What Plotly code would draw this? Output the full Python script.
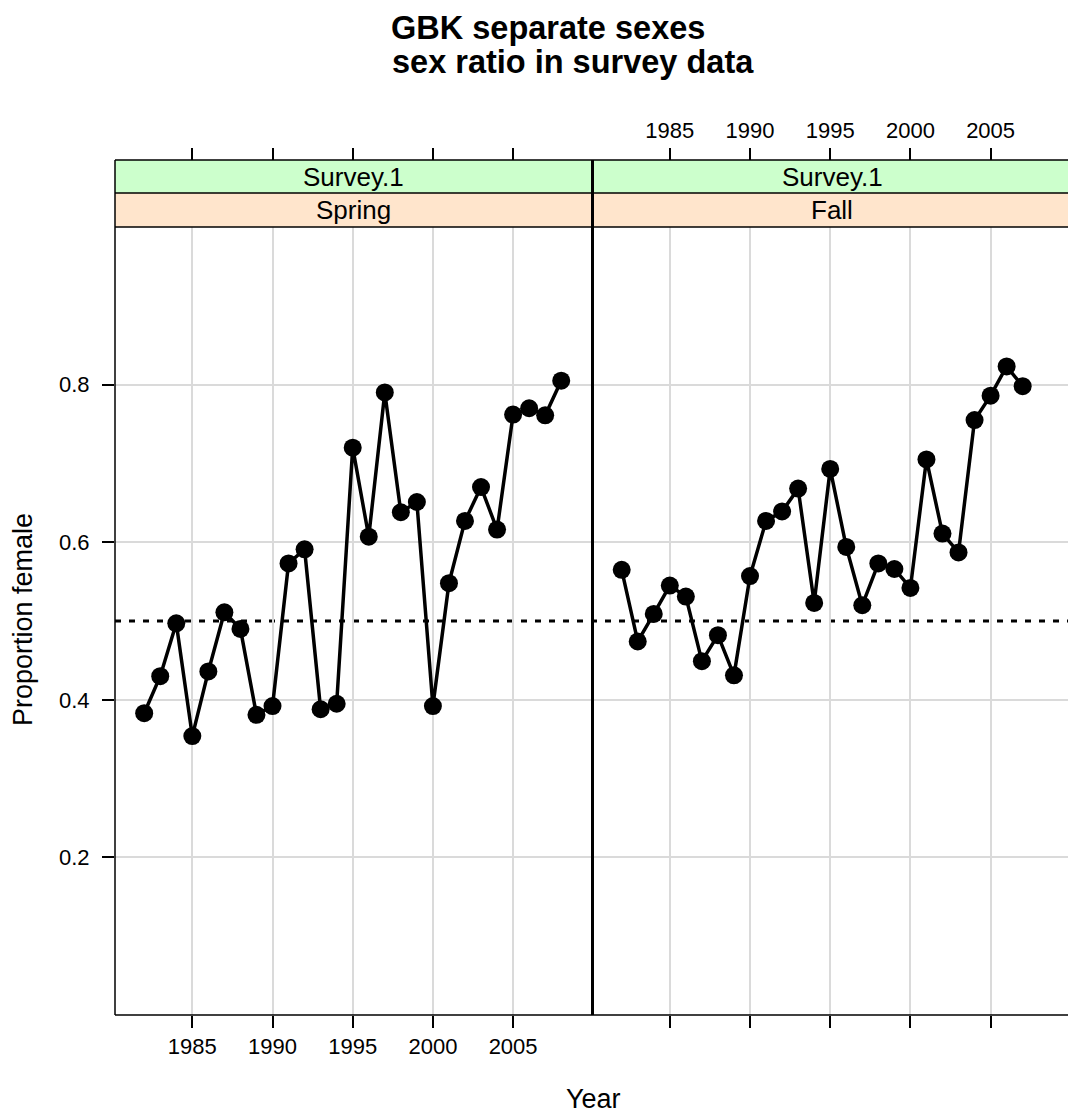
import plotly.graph_objects as go

# ---------------- data ----------------
years_spring = list(range(1982, 2009))
spring = [0.383, 0.430, 0.497, 0.354, 0.436, 0.511, 0.490, 0.381, 0.392, 0.573,
          0.591, 0.388, 0.395, 0.720, 0.607, 0.790, 0.638, 0.651, 0.392, 0.548,
          0.627, 0.670, 0.616, 0.762, 0.770, 0.761, 0.805]
years_fall = list(range(1982, 2008))
fall = [0.565, 0.474, 0.509, 0.545, 0.531, 0.449, 0.482, 0.431, 0.557, 0.627,
        0.639, 0.668, 0.523, 0.693, 0.594, 0.520, 0.573, 0.566, 0.542, 0.705,
        0.611, 0.587, 0.755, 0.786, 0.823, 0.798]
x_ticks = [1985, 1990, 1995, 2000, 2005]
y_ticks = [0.2, 0.4, 0.6, 0.8]
strip_outer = ["Survey.1", "Survey.1"]
strip_inner = ["Spring", "Fall"]
reference_level = 0.5
title_lines = ["GBK separate sexes", "sex ratio in survey data"]
x_title = "Year"
y_title = "Proportion female"

# ---------------- geometry / style ----------------
W, H = 1068, 1114
ML, MR, MT, MB = 115, 0, 160, 99
PW = W - ML - MR
PH = H - MT - MB


def px_x(p):
    return (p - ML) / PW


def px_y(p):
    return (H - MB - p) / PH


FONT = "Liberation Sans, Arial, Helvetica, sans-serif"
GRID = "#DADADA"
dL = px_x(592.5)
ytop = px_y(227)
s_mid = px_y(193)
px_per_year = 477.5 / 29.77
XR_L = [1980.18, 2009.95]
XR_R = [1980.18, 1980.18 + (W - 592.5) / px_per_year]

fig = go.Figure()
line_style = dict(color="black", width=3.5)
marker_style = dict(color="black", size=18)
fig.add_trace(go.Scatter(x=years_spring, y=spring, mode="lines+markers",
                         line=line_style, marker=marker_style,
                         xaxis="x", yaxis="y", showlegend=False))
fig.add_trace(go.Scatter(x=years_fall, y=fall, mode="lines+markers",
                         line=line_style, marker=marker_style,
                         xaxis="x2", yaxis="y2", showlegend=False))
# invisible companions so the top tick axes get drawn
fig.add_trace(go.Scatter(x=years_spring, y=spring, mode="markers",
                         marker=dict(opacity=0), hoverinfo="skip",
                         xaxis="x3", yaxis="y", showlegend=False))
fig.add_trace(go.Scatter(x=years_fall, y=fall, mode="markers",
                         marker=dict(opacity=0), hoverinfo="skip",
                         xaxis="x4", yaxis="y2", showlegend=False))

tickfont = dict(family=FONT, size=22, color="black")
common_x = dict(tickvals=x_ticks, ticks="outside", ticklen=12, tickwidth=1.5,
                tickcolor="black", zeroline=False, showline=False,
                tickfont=tickfont, fixedrange=True)

fig.update_layout(
    width=W, height=H,
    margin=dict(l=ML, r=MR, t=MT, b=MB, pad=0),
    paper_bgcolor="white", plot_bgcolor="white",
    showlegend=False,
    xaxis=dict(domain=[0, dL], range=XR_L, anchor="y", showgrid=True,
               gridcolor=GRID, gridwidth=1.5, ticklabelstandoff=0, **common_x),
    xaxis2=dict(domain=[dL, 1], range=XR_R, anchor="y2", showgrid=True,
                gridcolor=GRID, gridwidth=1.5, showticklabels=False, **common_x),
    xaxis3=dict(domain=[0, dL], range=XR_L, overlaying="x", side="top",
                anchor="free", position=1, showgrid=False,
                showticklabels=False, **common_x),
    xaxis4=dict(domain=[dL, 1], range=XR_R, overlaying="x2", side="top",
                anchor="free", position=1, showgrid=False,
                showticklabels=True, ticklabelstandoff=1, **common_x),
    yaxis=dict(domain=[0, ytop], range=[0, 1], anchor="x", tickvals=y_ticks,
               ticks="outside", ticklen=12, tickwidth=1.5, tickcolor="black",
               showgrid=True, gridcolor=GRID, gridwidth=1.5, zeroline=False,
               showline=False, tickfont=tickfont, ticklabelstandoff=8,
               fixedrange=True),
    yaxis2=dict(domain=[0, ytop], range=[0, 1], anchor="x2", tickvals=y_ticks,
                ticks="", showticklabels=False, showgrid=True, gridcolor=GRID,
                gridwidth=1.5, zeroline=False, showline=False, fixedrange=True),
)

shapes = []
panels = [(0, dL), (dL, 1)]
for (a, b) in panels:
    shapes.append(dict(type="rect", xref="paper", yref="paper", x0=a, x1=b,
                       y0=s_mid, y1=1, fillcolor="#CCFFCC", line=dict(width=0),
                       layer="below"))
    shapes.append(dict(type="rect", xref="paper", yref="paper", x0=a, x1=b,
                       y0=ytop, y1=s_mid, fillcolor="#FFE5CC", line=dict(width=0),
                       layer="below"))
# reference line
shapes.append(dict(type="line", xref="paper", yref="y", x0=0, x1=1,
                   y0=reference_level, y1=reference_level,
                   line=dict(color="black", width=3, dash="6px,8px"),
                   layer="between"))
# borders
border = dict(color="black", width=1.5)
for yy in [0, ytop, s_mid, 1]:
    shapes.append(dict(type="line", xref="paper", yref="paper", x0=0, x1=1,
                       y0=yy, y1=yy, line=border, layer="above"))
shapes.append(dict(type="line", xref="paper", yref="paper", x0=0, x1=0,
                   y0=0, y1=1, line=border, layer="above"))
shapes.append(dict(type="line", xref="paper", yref="paper", x0=dL, x1=dL,
                   y0=0, y1=1, line=dict(color="black", width=3), layer="above"))
fig.update_layout(shapes=shapes)

ann = []
for i, (a, b) in enumerate(panels):
    cx = (a + b) / 2 if i == 0 else (a + px_x(1071.5)) / 2
    ann.append(dict(xref="paper", yref="paper", x=cx,
                    y=(s_mid + 1) / 2, text=strip_outer[i], showarrow=False,
                    font=dict(family=FONT, size=26, color="black"),
                    xanchor="center", yanchor="middle"))
    ann.append(dict(xref="paper", yref="paper", x=cx,
                    y=(ytop + s_mid) / 2, text=strip_inner[i], showarrow=False,
                    font=dict(family=FONT, size=26, color="black"),
                    xanchor="center", yanchor="middle"))
ann.append(dict(xref="paper", yref="paper", x=px_x(548), y=px_y(28),
                text="<b>%s</b>" % title_lines[0], showarrow=False,
                font=dict(family=FONT, size=32.5, color="black"),
                xanchor="center", yanchor="middle"))
ann.append(dict(xref="paper", yref="paper", x=px_x(573), y=px_y(62),
                text="<b>%s</b>" % title_lines[1], showarrow=False,
                font=dict(family=FONT, size=32.5, color="black"),
                xanchor="center", yanchor="middle"))
ann.append(dict(xref="paper", yref="paper", x=px_x(593), y=px_y(1099),
                text=x_title, showarrow=False,
                font=dict(family=FONT, size=27, color="black"),
                xanchor="center", yanchor="middle"))
ann.append(dict(xref="paper", yref="paper", x=px_x(23), y=px_y(620),
                text=y_title, showarrow=False, textangle=-90,
                font=dict(family=FONT, size=27, color="black"),
                xanchor="center", yanchor="middle"))
fig.update_layout(annotations=ann)

fig.write_html("out.html",
               config={"displayModeBar": False},
               post_script="document.body.style.margin='0px';"
                           "document.body.style.overflow='hidden';")
